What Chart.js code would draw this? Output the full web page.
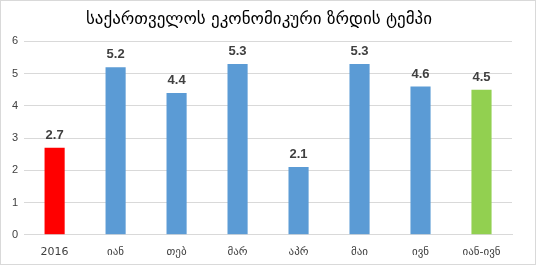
<!DOCTYPE html>
<html>
<head>
<meta charset="utf-8">
<script src="https://cdn.jsdelivr.net/npm/chart.js@4"></script>
<style>
    html, body { margin: 0; padding: 0; background: #fff; }
    #wrap { width: 534px; height: 263px; border: 1px solid #d9d9d9; }
</style>
</head>
<body>
<div id="wrap"><canvas id="growth"></canvas></div>
<script>
// Chart data
const categories = ["2016", "იან", "თებ", "მარ", "აპრ", "მაი", "ივნ", "იან-ივნ"];
const growthValues = [2.7, 5.2, 4.4, 5.3, 2.1, 5.3, 4.6, 4.5];
const barColors = ["#ff0000", "#5b9bd5", "#5b9bd5", "#5b9bd5", "#5b9bd5", "#5b9bd5", "#5b9bd5", "#92d050"];
const chartTitle = "საქართველოს ეკონომიკური ზრდის ტემპი";

// Draws the value above each bar
const valueLabels = {
    id: "valueLabels",
    afterDatasetsDraw(chart) {
        const ctx = chart.ctx;
        const meta = chart.getDatasetMeta(0);
        ctx.save();
        ctx.font = "bold 13px 'Liberation Sans', Arial, sans-serif";
        ctx.fillStyle = "#404040";
        ctx.textAlign = "center";
        ctx.textBaseline = "bottom";
        meta.data.forEach(function (bar, i) {
            ctx.fillText(growthValues[i].toFixed(1), bar.x, bar.y - 6);
        });
        ctx.restore();
    }
};

new Chart("growth", {
    type: "bar",
    data: {
        labels: categories,
        datasets: [{
            data: growthValues,
            backgroundColor: barColors,
            barPercentage: 0.55,
            categoryPercentage: 0.6
        }]
    },
    options: {
        responsive: true,
        maintainAspectRatio: false,
        animation: false,
        layout: { padding: { left: 5, right: 23, top: 0, bottom: 2 } },
        plugins: {
            legend: { display: false },
            tooltip: { enabled: false },
            title: {
                display: true,
                text: chartTitle,
                color: "#000",
                font: { family: "'DejaVu Sans'", size: 17, weight: "normal" },
                padding: { top: 8, bottom: 12 }
            }
        },
        scales: {
            x: {
                grid: { display: false },
                border: { color: "#d9d9d9" },
                ticks: { color: "#404040", font: { family: "'DejaVu Sans', sans-serif", size: 11 }, padding: 3 }
            },
            y: {
                min: 0,
                max: 6,
                ticks: { stepSize: 1, color: "#404040", font: { family: "'Liberation Sans', Arial, sans-serif", size: 11 }, padding: 6 },
                grid: { color: "#d9d9d9", drawTicks: false },
                border: { display: false }
            }
        }
    },
    plugins: [valueLabels]
});
</script>
</body>
</html>
